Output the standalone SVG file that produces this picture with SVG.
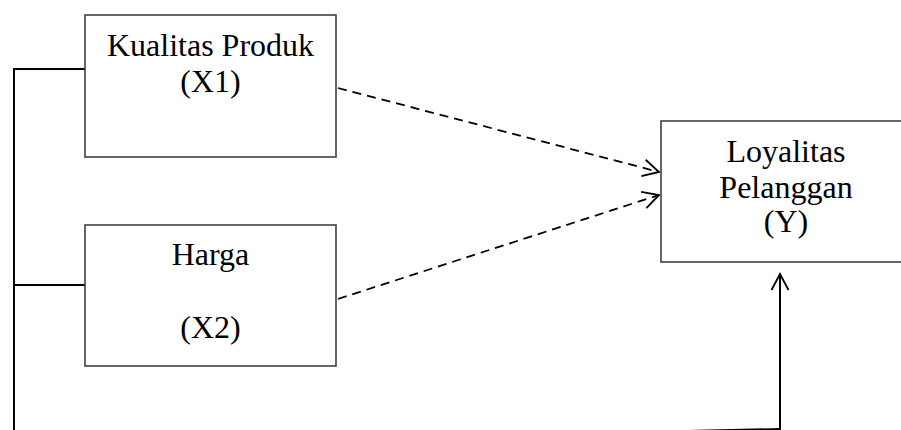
<svg xmlns="http://www.w3.org/2000/svg" width="901" height="430" viewBox="0 0 901 430">
<style>
.box{fill:#fff;stroke:#404040;stroke-width:1.6}
.t{font-family:"Liberation Serif","Times New Roman",serif;font-size:32px;fill:#000;text-anchor:middle}
.solid{fill:none;stroke:#000;stroke-width:2}
.dash{fill:none;stroke:#000;stroke-width:1.8;stroke-dasharray:9 6}
.head{fill:none;stroke:#000;stroke-width:1.8;stroke-dasharray:none}
</style>
<defs>
<marker id="open" viewBox="0 0 20 20" refX="18" refY="10" markerWidth="20" markerHeight="20" markerUnits="userSpaceOnUse" orient="auto">
<path class="head" d="M2,1.5 L18,10 L2,18.5"/>
</marker>
</defs>
<g id="connectors">
<polyline class="solid" points="85,69 14,69 14,432"/>
<line class="solid" x1="14" y1="285" x2="85" y2="285"/>
<line class="solid" x1="650" y1="431.8" x2="781" y2="429"/>
<line class="solid" x1="780" y1="429" x2="780" y2="274" marker-end="url(#open)"/>
<line class="dash" x1="338" y1="88" x2="659" y2="172" marker-end="url(#open)"/>
<line class="dash" x1="338" y1="299" x2="659" y2="195" marker-end="url(#open)"/>
</g>
<g id="node-x1">
<rect class="box" x="85" y="15" width="251" height="142"/>
<text class="t" x="210.5" y="56">Kualitas Produk</text>
<text class="t" x="210.5" y="92">(X1)</text>
</g>
<g id="node-x2">
<rect class="box" x="85" y="225" width="251" height="141"/>
<text class="t" x="210.5" y="265">Harga</text>
<text class="t" x="210.5" y="338">(X2)</text>
</g>
<g id="node-y">
<rect class="box" x="661" y="121" width="252" height="141"/>
<text class="t" x="786" y="162">Loyalitas</text>
<text class="t" x="786" y="198">Pelanggan</text>
<text class="t" x="786" y="232">(Y)</text>
</g>
</svg>
